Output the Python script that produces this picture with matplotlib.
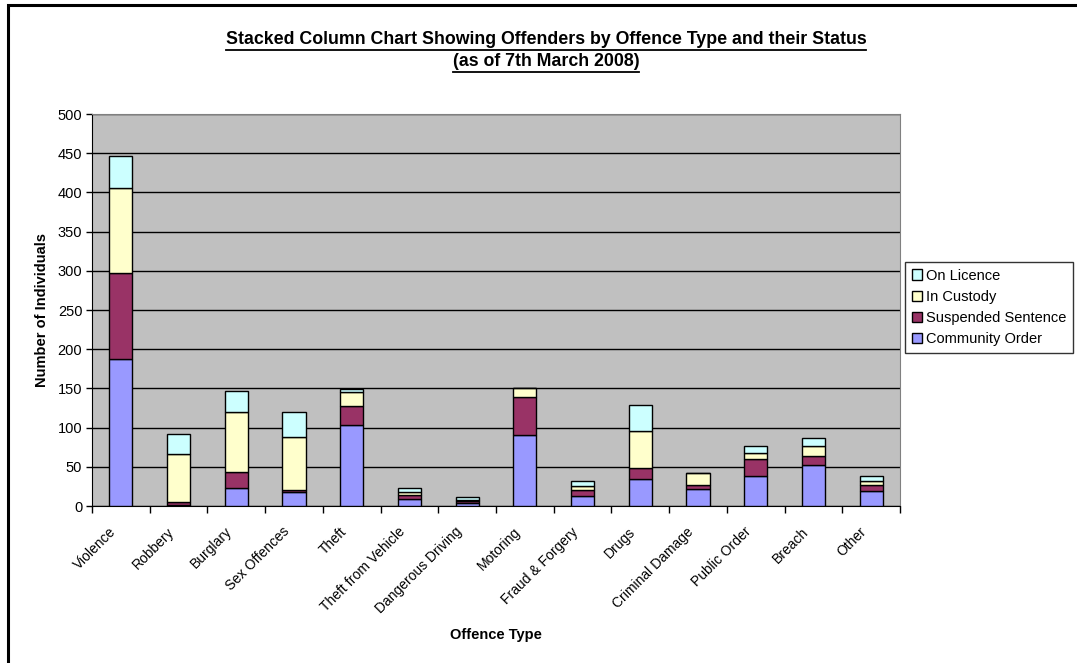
import numpy as np
import matplotlib
matplotlib.use("Agg")
import matplotlib.pyplot as plt
import matplotlib.transforms as mtransforms
from matplotlib.patches import Rectangle

plt.rcParams['font.family'] = ['Liberation Sans', 'DejaVu Sans']

# Offenders by offence type and status (as of 7th March 2008)
offence_types = ['Violence', 'Robbery', 'Burglary', 'Sex Offences', 'Theft',
                 'Theft from Vehicle', 'Dangerous Driving', 'Motoring',
                 'Fraud & Forgery', 'Drugs', 'Criminal Damage', 'Public Order',
                 'Breach', 'Other']

community_order = np.array([187, 1, 23, 18, 103, 9, 4, 91, 13, 34, 22, 38, 52, 19])
suspended_sentence = np.array([110, 4, 20, 3, 25, 5, 2, 48, 7, 15, 5, 22, 12, 8])
in_custody = np.array([108, 61, 77, 67, 18, 4, 2, 11, 6, 47, 15, 8, 13, 5])
on_licence = np.array([42, 26, 27, 32, 3, 5, 3, 1, 6, 33, 0, 8, 10, 6])

series = [
    ('Community Order', community_order, '#9999FF'),
    ('Suspended Sentence', suspended_sentence, '#993366'),
    ('In Custody', in_custody, '#FFFFCC'),
    ('On Licence', on_licence, '#CCFFFF'),
]

fig = plt.figure(figsize=(10.77, 6.63), dpi=100)
W, H = 1077, 663
ax = fig.add_axes([92 / W, 1 - 506 / H, (900 - 92) / W, (506 - 114) / H])
ax.set_facecolor('#C0C0C0')

# outer chart border
fig.patches.append(Rectangle((8 / W, -0.1), 1.2, 1 - 5 / H + 0.1, transform=fig.transFigure,
                             fill=False, edgecolor='black', linewidth=2.2))

x = np.arange(len(offence_types))
bottom = np.zeros(len(offence_types))
handles = {}
for name, vals, col in series:
    b = ax.bar(x, vals, width=0.4, bottom=bottom, color=col, edgecolor='black',
               linewidth=1.0, label=name, zorder=3)
    handles[name] = b
    bottom += vals

ax.set_xlim(-0.5, len(offence_types) - 0.5)
ax.set_ylim(0, 500)
ax.set_yticks(np.arange(0, 501, 50))
ax.yaxis.grid(True, color='black', linewidth=1.0, zorder=1)
ax.set_axisbelow(True)

ax.set_xticks(np.arange(-0.5, len(offence_types), 1.0), minor=False)
ax.set_xticklabels([])
ax.set_xticks(x, minor=True)
ax.set_xticklabels(offence_types, minor=True, rotation=45, ha='right', va='center',
                   rotation_mode='anchor', fontsize=10)
ax.tick_params(axis='x', which='minor', length=0, pad=17)
ax.tick_params(axis='x', which='major', length=5, width=1, direction='out')
ax.tick_params(axis='y', length=4, width=1, direction='out', labelsize=10.5, pad=3)
shift = mtransforms.ScaledTranslation(-7 / 100, 0, fig.dpi_scale_trans)
for lbl in ax.get_xticklabels(minor=True):
    lbl.set_transform(lbl.get_transform() + shift)

for side in ['top', 'right']:
    ax.spines[side].set_color('#808080')
for side in ['left', 'bottom']:
    ax.spines[side].set_color('black')

fig.text(42 / W, 1 - 310 / H, 'Number of Individuals', fontsize=10.5, fontweight='bold',
         rotation=90, ha='center', va='center')
fig.text(496 / W, 1 - 635 / H, 'Offence Type', fontsize=10.5, fontweight='bold',
         ha='center', va='center')

t1 = fig.text(546 / W, 1 - 40 / H, 'Stacked Column Chart Showing Offenders by Offence Type and their Status',
              fontsize=12.8, fontweight='bold', ha='center', va='center')
t2 = fig.text(546 / W, 1 - 62 / H, '(as of 7th March 2008)',
              fontsize=12.8, fontweight='bold', ha='center', va='center')

order = ['On Licence', 'In Custody', 'Suspended Sentence', 'Community Order']
leg = fig.legend([handles[n] for n in order], order, loc='upper left',
                 bbox_to_anchor=(905 / W, 1 - 262 / H), fontsize=10.5, frameon=True,
                 fancybox=False, shadow=False, handlelength=0.7, handleheight=0.7,
                 handletextpad=0.3, borderpad=0.45, labelspacing=0.5, borderaxespad=0)
leg.get_frame().set_edgecolor('black')
leg.get_frame().set_linewidth(1.0)

# underline the title lines
fig.canvas.draw()
r = fig.canvas.get_renderer()
for t in (t1, t2):
    bb = t.get_window_extent(r)
    y = (bb.y0 - 1) / H
    fig.add_artist(plt.Line2D([bb.x0 / W, bb.x1 / W], [y, y], transform=fig.transFigure,
                              color='black', linewidth=1.3))

fig.savefig('out.png', dpi=100)
